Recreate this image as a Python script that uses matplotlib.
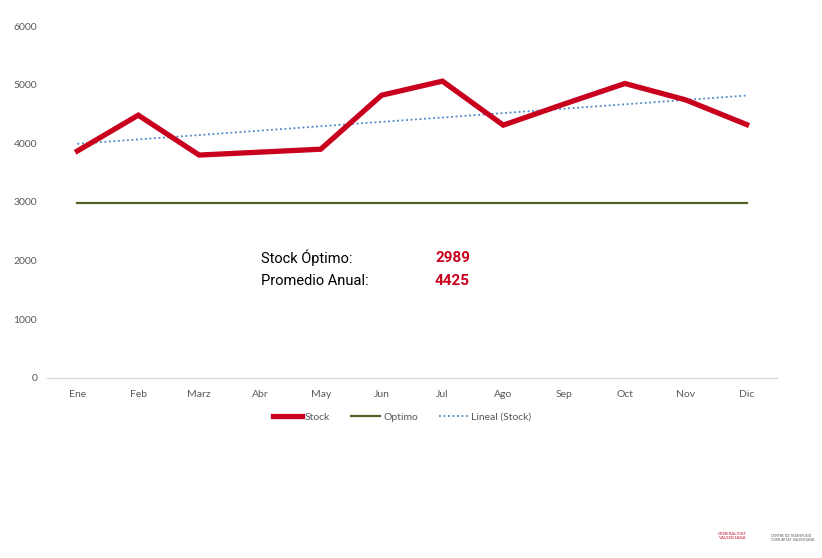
import numpy as np
import matplotlib
matplotlib.use('Agg')
import matplotlib.pyplot as plt

meses = ['Ene', 'Feb', 'Marz', 'Abr', 'May', 'Jun', 'Jul', 'Ago', 'Sep', 'Oct', 'Nov', 'Dic']
stock = [3870, 4480, 3800, 3850, 3900, 4820, 5060, 4310, 4670, 5020, 4740, 4320]
optimo = [2989] * 12
stock_optimo = 2989
promedio_anual = 4425

RED = '#C8001E'
GREEN = '#4F6228'
BLUE = '#4A86C8'
GRAY = '#595959'

plt.rcParams['font.family'] = ['Lato', 'DejaVu Sans']

fig = plt.figure(figsize=(8.22, 5.58), dpi=100)
ax = fig.add_axes([0.0572, 0.3226, 0.8881, 0.6308])

x = np.arange(len(meses))
ax.plot(x, stock, color=RED, lw=3.8, solid_joinstyle='miter', label='Stock', zorder=3)
ax.plot(x, optimo, color=GREEN, lw=1.6, label='Optimo', zorder=2)
m, b = np.polyfit(x, stock, 1)
ax.plot(x, m * x + b, color=BLUE, lw=1.3, ls=(0, (1, 1.5)), label='Lineal (Stock)', zorder=2)

ax.set_xlim(-0.5, len(meses) - 0.5)
ax.set_ylim(0, 6000)
ax.set_yticks(range(0, 6001, 1000))
ax.set_xticks(x)
ax.set_xticklabels(meses)
ax.tick_params(axis='both', length=0, labelsize=7.5, colors=GRAY)
ax.tick_params(axis='x', pad=9)
ax.tick_params(axis='y', pad=7)
for s in ['top', 'right', 'left']:
    ax.spines[s].set_visible(False)
ax.spines['bottom'].set_color('#D9D9D9')
ax.spines['bottom'].set_linewidth(1)

narrow = ['Roboto', 'DejaVu Sans']
fig.text(261 / 822, 1 - 258 / 558, 'Stock Óptimo:', family=narrow, fontsize=10.5, va='center', color='black')
fig.text(261 / 822, 1 - 281 / 558, 'Promedio Anual:', family=narrow, fontsize=10.5, va='center', color='black')
fig.text(435 / 822, 1 - 258 / 558, str(stock_optimo), family=narrow, fontsize=11, fontweight='bold', va='center', color=RED)
fig.text(435 / 822, 1 - 281 / 558, str(promedio_anual), family=narrow, fontsize=11, fontweight='bold', va='center', color=RED)

leg = fig.legend(loc='center', bbox_to_anchor=(402 / 822, 1 - 417 / 558), ncol=3, frameon=False,
                 fontsize=7.5, handlelength=2.8, handletextpad=0.3, columnspacing=2)
for t in leg.get_texts():
    t.set_color(GRAY)

# logos (aprox.)
fig.text(718 / 822, 1 - 536 / 558, 'GENERALITAT\nVALENCIANA', fontsize=3.2, color='#D0506A',
         va='center', linespacing=1.1, fontweight='bold')
fig.text(771 / 822, 1 - 538 / 558, 'CENTRE DE TRANSFUSIÓ\nCOMUNITAT VALENCIANA', fontsize=2.4, color='#808080',
         va='center', linespacing=1.1, fontweight='bold')

fig.savefig('out.png', dpi=100)
